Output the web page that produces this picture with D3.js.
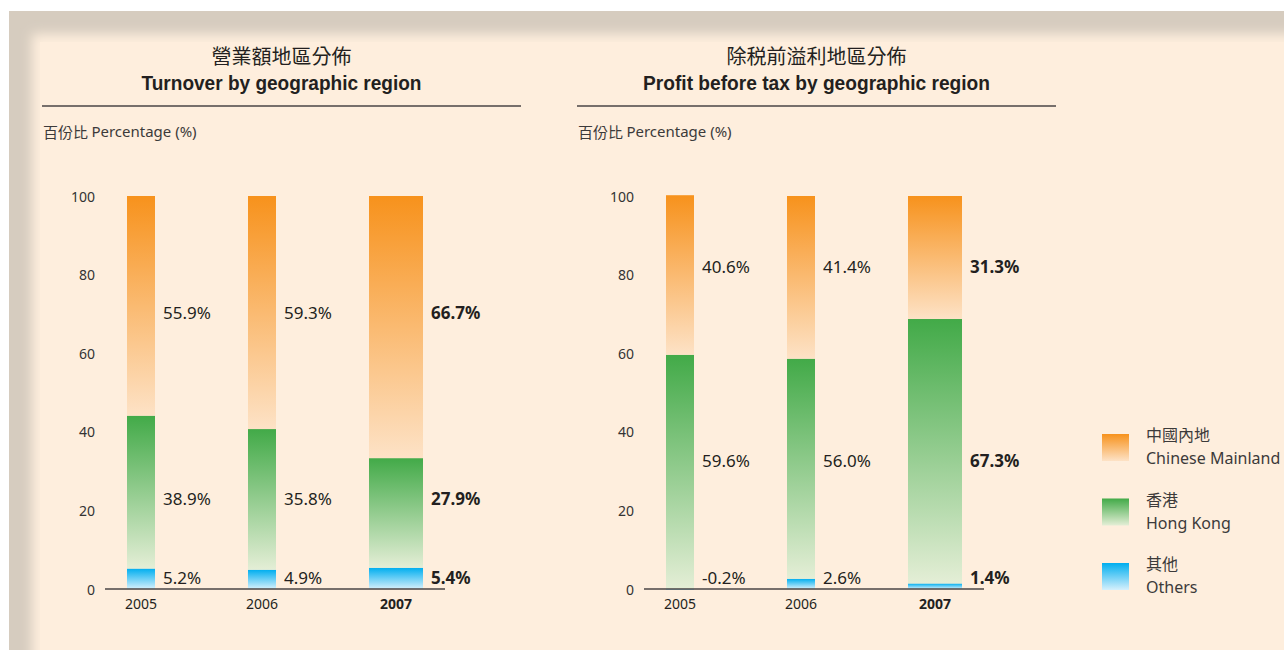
<!DOCTYPE html>
<html>
<head>
<meta charset="utf-8">
<script src="https://cdn.jsdelivr.net/npm/d3@7"></script>
<style>
  html, body { margin: 0; padding: 0; background: #fff; }
  svg { display: block; }
</style>
</head>
<body>
<div id="chart"></div>
<script>
const years = ["2005", "2006", "2007"];
const highlightYear = "2007";
const regionKeys = ["others", "hongKong", "mainland"];

const turnoverMainland = [55.9, 59.3, 66.7];
const turnoverHongKong = [38.9, 35.8, 27.9];
const turnoverOthers = [5.2, 4.9, 5.4];

const profitMainland = [40.6, 41.4, 31.3];
const profitHongKong = [59.6, 56.0, 67.3];
const profitOthers = [-0.2, 2.6, 1.4];

const yTicks = [0, 20, 40, 60, 80, 100];

const legendZh = ["中國內地", "香港", "其他"];
const legendEn = ["Chinese Mainland", "Hong Kong", "Others"];
const legendKeys = ["mainland", "hongKong", "others"];

const W = 1284, H = 650;
const CREAM = "#feeedd";
const TEXT = "#231f20";
const CJK = "'Noto Sans CJK TC', 'Noto Sans CJK SC', sans-serif";
const SANS = "'Noto Sans', 'Open Sans', sans-serif";
const NARROW = "'Liberation Sans Narrow', 'Liberation Sans', sans-serif";

const gradColors = {
  mainland: ["#f7921c", "#fde2c6"],
  hongKong: ["#42aa48", "#e4eed6"],
  others: ["#00aeef", "#d6f0fc"]
};

const svg = d3.select("#chart").append("svg")
  .attr("width", W)
  .attr("height", H);

const defs = svg.append("defs");
Object.entries(gradColors).forEach(([k, [c0, c1]]) => {
  const g = defs.append("linearGradient")
    .attr("id", "grad-" + k)
    .attr("x1", 0).attr("y1", 0).attr("x2", 0).attr("y2", 1);
  g.append("stop").attr("offset", "0%").attr("stop-color", c0);
  g.append("stop").attr("offset", "100%").attr("stop-color", c1);
});
defs.append("filter").attr("id", "soft")
  .attr("x", "-5%").attr("y", "-5%").attr("width", "110%").attr("height", "110%")
  .append("feGaussianBlur").attr("stdDeviation", 6);

// panel frame with soft shadow
svg.append("rect").attr("x", 9).attr("y", 11).attr("width", W - 9).attr("height", H - 11)
  .attr("fill", "#d6ccbf");
svg.append("rect").attr("x", 32).attr("y", 34).attr("width", W + 40).attr("height", H + 40)
  .attr("fill", CREAM).attr("filter", "url(#soft)");
svg.append("rect").attr("x", 40).attr("y", 42).attr("width", W).attr("height", H)
  .attr("fill", CREAM);

const fmt = v => (+v).toFixed(1) + "%";

function renderStacked(opts) {
  const { panelX, ox, titleZh, titleEn, titleEnWidth, mainland, hongKong, others } = opts;
  const g = svg.append("g");
  const axisX0 = ox, axisW = 340;
  const barW = 28, wideW = 54;
  const panelW = 479;

  const rows = years.map((yr, i) => ({
    year: yr, mainland: mainland[i], hongKong: hongKong[i], others: others[i]
  }));

  const series = d3.stack()
    .keys(regionKeys)
    .offset(d3.stackOffsetDiverging)(rows);

  const x = d3.scaleBand()
    .domain(years)
    .range([axisX0 + 22, axisX0 + 22 + 3 * 121])
    .padding(0);

  const y = d3.scaleLinear()
    .domain([0, 100])
    .range([589, 196]);

  const bw = d => d.data.year === highlightYear ? wideW : barW;

  // titles
  const cx = panelX + panelW / 2;
  g.append("text")
    .attr("x", cx).attr("y", 55)
    .attr("text-anchor", "middle").attr("dominant-baseline", "central")
    .attr("font-family", CJK).attr("font-size", 20).attr("fill", TEXT)
    .text(titleZh);
  g.append("text")
    .attr("x", cx).attr("y", 82)
    .attr("text-anchor", "middle").attr("dominant-baseline", "central")
    .attr("font-family", NARROW).attr("font-weight", "bold").attr("font-size", 21)
    .attr("fill", TEXT)
    .attr("textLength", titleEnWidth).attr("lengthAdjust", "spacingAndGlyphs")
    .text(titleEn);
  g.append("line")
    .attr("x1", panelX).attr("x2", panelX + panelW)
    .attr("y1", 106).attr("y2", 106)
    .attr("stroke", "#4a4444").attr("stroke-width", 1.5);

  const sub = g.append("text")
    .attr("x", panelX + 1).attr("y", 131)
    .attr("dominant-baseline", "central")
    .attr("fill", "#3c3a3a").attr("font-size", 15);
  sub.append("tspan").attr("font-family", CJK).text("百份比 ");
  sub.append("tspan").attr("font-family", SANS).text("Percentage (%)");

  // bars
  series.forEach(s => {
    g.append("g")
      .selectAll("rect")
      .data(s)
      .join("rect")
      .attr("x", d => x(d.data.year))
      .attr("y", d => y(Math.max(d[0], d[1])))
      .attr("width", bw)
      .attr("height", d => Math.max(Math.abs(y(d[0]) - y(d[1])), 0.8))
      .attr("fill", `url(#grad-${s.key})`);
  });

  // y tick labels (no axis line)
  g.append("g")
    .selectAll("text")
    .data(yTicks)
    .join("text")
    .attr("x", axisX0 - 10)
    .attr("y", d => y(d))
    .attr("text-anchor", "end")
    .attr("dominant-baseline", "central")
    .attr("font-family", SANS).attr("font-size", 14).attr("fill", "#333")
    .text(d => d);

  // baseline
  g.append("line")
    .attr("x1", axisX0).attr("x2", axisX0 + axisW)
    .attr("y1", y(0)).attr("y2", y(0))
    .attr("stroke", "#4a4444").attr("stroke-width", 1.5);

  // year labels
  g.append("g")
    .selectAll("text")
    .data(rows)
    .join("text")
    .attr("x", d => x(d.year) + (d.year === highlightYear ? wideW : barW) / 2)
    .attr("y", 603)
    .attr("text-anchor", "middle")
    .attr("dominant-baseline", "central")
    .attr("font-family", SANS).attr("font-size", 14)
    .attr("font-weight", d => d.year === highlightYear ? "bold" : "normal")
    .attr("fill", TEXT)
    .text(d => d.year);

  // value labels: one common height per region, others just above the baseline
  series.forEach(s => {
    const mid = d3.mean(s, d => (d[0] + d[1]) / 2);
    const ly = s.key === "others" ? y(0) - 12 : y(mid) - 3;
    g.append("g")
      .selectAll("text")
      .data(s)
      .join("text")
      .attr("x", d => x(d.data.year) + bw(d) + 8)
      .attr("y", ly)
      .attr("dominant-baseline", "central")
      .attr("font-family", SANS).attr("font-size", 17)
      .attr("font-weight", d => d.data.year === highlightYear ? "bold" : "normal")
      .attr("fill", TEXT)
      .text(d => fmt(d.data[s.key]));
  });
}

renderStacked({
  panelX: 42,
  ox: 105,
  titleZh: "營業額地區分佈",
  titleEn: "Turnover by geographic region",
  titleEnWidth: 280,
  mainland: turnoverMainland, hongKong: turnoverHongKong, others: turnoverOthers
});

renderStacked({
  panelX: 577,
  ox: 644,
  titleZh: "除税前溢利地區分佈",
  titleEn: "Profit before tax by geographic region",
  titleEnWidth: 347,
  mainland: profitMainland, hongKong: profitHongKong, others: profitOthers
});

// legend
const legend = svg.append("g");
const ly = d3.scalePoint().domain(legendKeys).range([434, 563]);
legend.selectAll("rect")
  .data(legendKeys)
  .join("rect")
  .attr("x", 1102).attr("y", d => ly(d))
  .attr("width", 27).attr("height", 27)
  .attr("fill", d => `url(#grad-${d})`);
legend.selectAll("text.zh")
  .data(legendKeys)
  .join("text").attr("class", "zh")
  .attr("x", 1146).attr("y", d => ly(d))
  .attr("dominant-baseline", "central")
  .attr("font-family", CJK).attr("font-size", 16).attr("fill", "#3c3a3a")
  .text((d, i) => legendZh[i]);
legend.selectAll("text.en")
  .data(legendKeys)
  .join("text").attr("class", "en")
  .attr("x", 1146).attr("y", d => ly(d) + 24)
  .attr("dominant-baseline", "central")
  .attr("font-family", SANS).attr("font-size", 16).attr("fill", "#3c3a3a")
  .text((d, i) => legendEn[i]);
</script>
</body>
</html>
